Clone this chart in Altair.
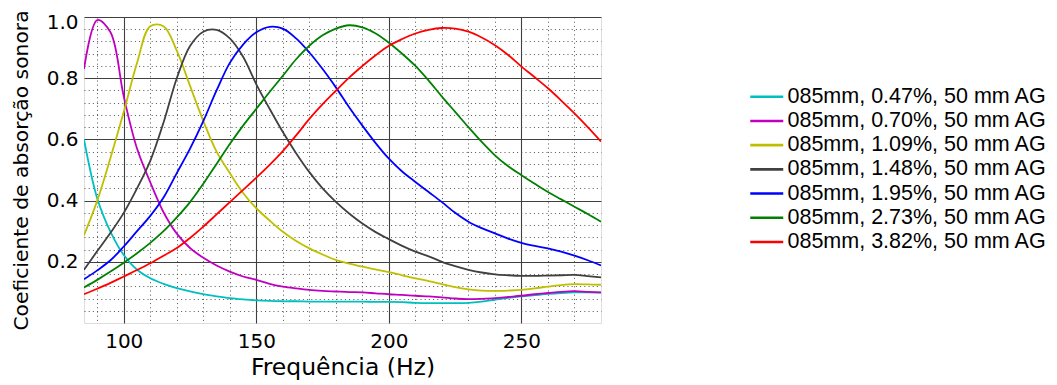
import altair as alt
import pandas as pd

# ---- data ----
freq = [85, 90, 95, 100, 105, 110, 115, 120, 125, 130, 135, 140, 145, 150, 155, 160,
        165, 170, 175, 180, 185, 190, 195, 200, 205, 210, 215, 220, 225, 230, 235, 240,
        245, 250, 255, 260, 265, 270, 275, 280]

a_047 = [0.600, 0.407, 0.298, 0.222, 0.174, 0.146, 0.128, 0.114, 0.103, 0.094, 0.087, 0.081,
         0.077, 0.074, 0.072, 0.071, 0.071, 0.070, 0.070, 0.070, 0.070, 0.070, 0.069, 0.069,
         0.068, 0.066, 0.065, 0.065, 0.065, 0.066, 0.070, 0.076, 0.082, 0.087, 0.091, 0.095,
         0.098, 0.100, 0.100, 0.099]
a_070 = [0.830, 0.990, 0.950, 0.740, 0.570, 0.460, 0.362, 0.292, 0.245, 0.213, 0.188, 0.168,
         0.152, 0.141, 0.128, 0.119, 0.113, 0.108, 0.105, 0.103, 0.101, 0.100, 0.097, 0.094,
         0.092, 0.089, 0.087, 0.084, 0.080, 0.078, 0.079, 0.081, 0.085, 0.089, 0.094, 0.098,
         0.102, 0.104, 0.102, 0.100]
a_109 = [0.287, 0.400, 0.540, 0.690, 0.850, 0.970, 0.970, 0.890, 0.775, 0.660, 0.560, 0.490,
         0.425, 0.375, 0.335, 0.298, 0.268, 0.244, 0.224, 0.206, 0.194, 0.184, 0.175, 0.166,
         0.156, 0.146, 0.137, 0.127, 0.117, 0.110, 0.106, 0.105, 0.106, 0.108, 0.113, 0.119,
         0.124, 0.127, 0.126, 0.125]
a_148 = [0.174, 0.235, 0.295, 0.360, 0.440, 0.530, 0.655, 0.800, 0.905, 0.952, 0.958, 0.930,
         0.870, 0.780, 0.700, 0.624, 0.555, 0.493, 0.440, 0.396, 0.358, 0.325, 0.297, 0.274,
         0.252, 0.233, 0.218, 0.200, 0.186, 0.174, 0.165, 0.159, 0.156, 0.154, 0.154, 0.155,
         0.156, 0.157, 0.153, 0.149]
a_195 = [0.143, 0.172, 0.205, 0.250, 0.300, 0.350, 0.410, 0.490, 0.570, 0.660, 0.760, 0.850,
         0.910, 0.950, 0.968, 0.962, 0.930, 0.884, 0.830, 0.770, 0.705, 0.645, 0.588, 0.537,
         0.495, 0.461, 0.428, 0.395, 0.360, 0.331, 0.310, 0.293, 0.276, 0.262, 0.252, 0.244,
         0.233, 0.220, 0.205, 0.188]
a_273 = [0.116, 0.141, 0.168, 0.197, 0.228, 0.262, 0.300, 0.345, 0.395, 0.455, 0.520, 0.585,
         0.645, 0.700, 0.755, 0.808, 0.862, 0.906, 0.940, 0.962, 0.973, 0.966, 0.946, 0.916,
         0.880, 0.840, 0.792, 0.740, 0.690, 0.640, 0.592, 0.548, 0.512, 0.483, 0.455, 0.428,
         0.404, 0.380, 0.356, 0.331]
a_382 = [0.094, 0.112, 0.131, 0.152, 0.173, 0.195, 0.220, 0.245, 0.278, 0.315, 0.355, 0.395,
         0.435, 0.475, 0.517, 0.562, 0.613, 0.667, 0.715, 0.759, 0.802, 0.840, 0.875, 0.906,
         0.928, 0.946, 0.958, 0.964, 0.962, 0.952, 0.933, 0.908, 0.876, 0.838, 0.803, 0.767,
         0.727, 0.685, 0.640, 0.593]

labels = ["085mm, 0.47%, 50 mm AG", "085mm, 0.70%, 50 mm AG", "085mm, 1.09%, 50 mm AG",
          "085mm, 1.48%, 50 mm AG", "085mm, 1.95%, 50 mm AG", "085mm, 2.73%, 50 mm AG",
          "085mm, 3.82%, 50 mm AG"]
colors = ["#00BFBF", "#BF00BF", "#BFBF00", "#404040", "#0000FF", "#008000", "#FF0000"]

x_ticks = [90, 100, 110, 120, 130, 140, 150, 160, 170, 180, 190, 200, 210, 220, 230,
           240, 250, 260, 270]
y_ticks = [0.04, 0.08, 0.12, 0.16, 0.2, 0.24, 0.28, 0.32, 0.36, 0.4, 0.44, 0.48, 0.52,
           0.56, 0.6, 0.64, 0.68, 0.72, 0.76, 0.8, 0.84, 0.88, 0.92, 0.96, 1.0]

series = [a_047, a_070, a_109, a_148, a_195, a_273, a_382]
rows = []
for lab, vals in zip(labels, series):
    for f, v in zip(freq, vals):
        rows.append({"freq": f, "alpha": v, "serie": lab})
df = pd.DataFrame(rows)

x_major = "datum.value % 50 === 0"
y_major = "abs(datum.value * 5 - round(datum.value * 5)) < 0.001"

x_axis = alt.Axis(
    values=x_ticks, title="Frequência (Hz)", ticks=False, domain=False,
    labelExpr=f"{x_major} ? datum.label : ''", labelOverlap=False, labelFlush=False,
    labelFont="DejaVu Sans", labelFontSize=20, labelColor="#000", labelPadding=8,
    titleFont="DejaVu Sans", titleFontSize=23.5, titleFontWeight="normal", titleColor="#000",
    titlePadding=4,
    gridColor={"condition": {"test": x_major, "value": "#404040"}, "value": "#555555"},
    gridDash={"condition": {"test": x_major, "value": []}, "value": [1, 3.2]},
    gridWidth={"condition": {"test": x_major, "value": 1.1}, "value": 1},
)
y_axis = alt.Axis(
    values=y_ticks, title="Coeficiente de absorção sonora", ticks=False, domain=False,
    format=".1f", labelExpr=f"{y_major} ? datum.label : ''", labelOverlap=False,
    labelFlush=False,
    labelOffset={"condition": {"test": "datum.value > 0.99", "value": 5}, "value": 0},
    labelFont="DejaVu Sans", labelFontSize=20, labelColor="#000", labelPadding=6,
    titleFont="DejaVu Sans", titleFontSize=20.3, titleFontWeight="normal", titleColor="#000",
    titlePadding=15,
    gridColor={"condition": {"test": y_major, "value": "#404040"}, "value": "#555555"},
    gridDash={"condition": {"test": y_major, "value": []}, "value": [1, 3.2]},
    gridWidth={"condition": {"test": y_major, "value": 1.1}, "value": 1},
)

chart = alt.Chart(df).mark_line(strokeWidth=1.8, clip=True, interpolate="catmull-rom").encode(
    x=alt.X("freq:Q", scale=alt.Scale(domain=[85, 280], nice=False, zero=False), axis=x_axis),
    y=alt.Y("alpha:Q", scale=alt.Scale(domain=[0, 1], nice=False), axis=y_axis),
    color=alt.Color(
        "serie:N",
        scale=alt.Scale(domain=labels, range=colors),
        legend=alt.Legend(
            title=None, orient="none", legendX=672, legendY=69, padding=0,
            labelFont="Liberation Sans", labelFontSize=21.5, labelColor="#000", labelLimit=0,
            labelOffset=10, symbolType="M-2,0H2", symbolSize=272, symbolStrokeWidth=2.6,
            rowPadding=1.2,
        ),
    ),
    detail="serie:N",
    order=alt.Order("freq:Q"),
).properties(
    width=517, height=306,
    padding={"left": 76, "top": 9, "right": 448, "bottom": 60},
    autosize=alt.AutoSizeParams(type="none"),
).configure_view(
    stroke="#333333", strokeWidth=1.3
).configure(background="white")

chart.save("out.html", embed_options={"renderer": "svg", "actions": False})
